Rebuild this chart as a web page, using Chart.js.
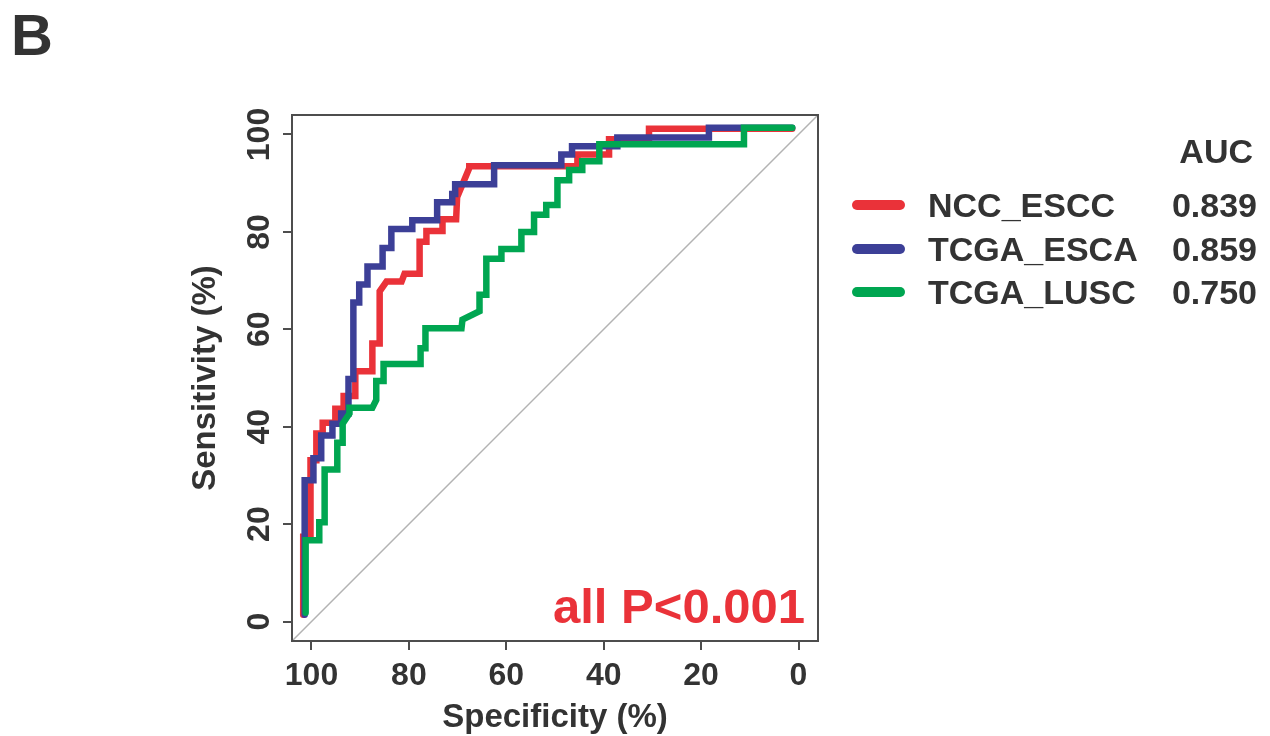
<!DOCTYPE html>
<html>
<head>
<meta charset="utf-8">
<script src="https://cdn.jsdelivr.net/npm/chart.js@4.4.1/dist/chart.umd.min.js"></script>
<style>
html,body{margin:0;padding:0;background:#ffffff;}
#wrap{width:1270px;height:736px;position:relative;}
</style>
</head>
<body>
<div id="wrap"><canvas id="c"></canvas></div>
<script>
// ---------- data ----------
const seriesNames = ['NCC_ESCC', 'TCGA_ESCA', 'TCGA_LUSC'];
const aucValues = ['0.839', '0.859', '0.750'];
const tickValues = [0, 20, 40, 60, 80, 100];
const tickLabels = ['0', '20', '40', '60', '80', '100'];

// NCC_ESCC (red)
const nccSpec = [101.7,101.7,100.2,100.2,99.0,99.0,97.7,97.7,95.1,95.1,93.4,93.4,91.0,91.0,87.5,87.5,86.0,86.0,84.6,81.5,80.9,77.8,77.8,76.4,76.4,73.1,73.1,70.3,70.1,67.6,67.6,45.4,45.4,38.9,38.9,30.7,30.7,1.3];
const nccSens = [1.4,17.4,17.4,33.1,33.1,38.6,38.6,40.8,40.8,43.7,43.7,46.3,46.3,51.4,51.4,57.1,57.1,67.8,69.8,69.8,71.4,71.4,78.0,78.0,80.2,80.2,82.6,82.6,87.1,93.1,93.5,93.5,95.9,95.9,99.0,99.0,101.2,101.2];

// TCGA_ESCA (blue)
const escaSpec = [101.4,101.4,99.6,99.6,98.0,98.0,95.7,95.7,93.9,93.9,92.4,92.4,91.4,91.4,90.2,90.2,88.5,88.5,85.4,85.4,83.6,83.6,79.3,79.3,74.2,74.2,71.1,71.1,70.5,70.5,62.5,62.5,48.7,48.7,46.5,46.5,37.2,37.2,18.4,18.4,1.3];
const escaSens = [1.4,29.0,29.0,33.5,33.5,38.2,38.2,40.6,40.6,42.7,42.7,49.8,49.8,65.5,65.5,69.2,69.2,72.9,72.9,76.7,76.7,80.6,80.6,82.4,82.4,86.1,86.1,87.8,87.8,89.8,89.8,93.7,93.7,95.9,95.9,97.6,97.6,99.4,99.4,101.4,101.4];

// TCGA_LUSC (green)
const luscSpec = [101.2,101.2,98.4,98.4,97.3,97.3,94.7,94.7,93.6,93.6,92.2,92.2,87.5,86.7,86.7,85.2,85.2,77.6,77.6,76.6,76.6,69.2,69.0,65.5,65.5,64.1,64.1,61.0,61.0,56.9,56.9,54.3,54.3,51.8,51.8,49.5,49.5,47.1,47.1,44.4,44.4,40.9,40.9,11.2,11.2,1.3];
const luscSens = [1.8,16.7,16.7,20.4,20.4,31.2,31.2,36.7,36.7,40.6,42.7,43.9,43.9,45.5,49.4,49.4,52.9,52.9,56.1,56.1,60.2,60.2,62.0,63.7,67.1,67.1,74.5,74.5,76.5,76.5,80.0,80.0,83.5,83.5,85.5,85.5,90.6,90.6,92.7,92.7,94.5,94.5,98.0,98.0,101.4,101.4];

// chance diagonal
const diagSpec = [104, -4];
const diagSens = [-4, 104];

// ---------- styles ----------
const COLORS = ['#ea3239', '#3c3f97', '#00a651'];
const TEXT = '#333333';
const FONT = '"Liberation Sans", Arial, Helvetica, sans-serif';

const toPts = (xs, ys) => xs.map((x, i) => ({x: x, y: ys[i]}));

const curveStyle = (c) => ({
  borderColor: c, backgroundColor: c, borderWidth: 6.5,
  pointRadius: 0, pointHoverRadius: 0, showLine: true, tension: 0,
  borderCapStyle: 'round', borderJoinStyle: 'miter', fill: false
});

const decor = {
  id: 'decor',
  afterDatasetsDraw(chart) {
    const {ctx, chartArea: a} = chart;
    ctx.save();
    ctx.strokeStyle = '#4d4d4d';
    ctx.lineWidth = 2;
    ctx.strokeRect(a.left, a.top, a.right - a.left, a.bottom - a.top);
    ctx.restore();
  },
  afterDraw(chart) {
    const {ctx, chartArea: a} = chart;
    const ys = chart.scales.y;
    ctx.save();
    // rotated y tick labels
    ctx.fillStyle = TEXT;
    ctx.font = 'bold 32px ' + FONT;
    ctx.textAlign = 'center';
    ctx.textBaseline = 'middle';
    tickValues.forEach((v, i) => {
      const py = ys.getPixelForValue(v);
      ctx.save();
      ctx.translate(a.left - 32, py);
      ctx.rotate(-Math.PI / 2);
      ctx.fillText(tickLabels[i], 0, 0);
      ctx.restore();
    });
    // panel letter
    ctx.font = 'bold 58px ' + FONT;
    ctx.textAlign = 'left';
    ctx.textBaseline = 'alphabetic';
    ctx.fillText('B', 11, 55);
    // p-value annotation
    ctx.fillStyle = COLORS[0];
    ctx.font = 'bold 49px ' + FONT;
    ctx.textAlign = 'right';
    ctx.fillText('all P<0.001', 805, 623);
    // legend
    ctx.fillStyle = TEXT;
    ctx.font = 'bold 34px ' + FONT;
    ctx.textAlign = 'right';
    ctx.fillText('AUC', 1253, 163);
    const rows = [205, 249, 292];
    seriesNames.forEach((name, i) => {
      const y = rows[i];
      ctx.strokeStyle = COLORS[i];
      ctx.lineWidth = 10;
      ctx.lineCap = 'round';
      ctx.beginPath();
      ctx.moveTo(857, y);
      ctx.lineTo(900, y);
      ctx.stroke();
      ctx.fillStyle = TEXT;
      ctx.textAlign = 'left';
      ctx.fillText(name, 928, y + 12);
      ctx.textAlign = 'right';
      ctx.fillText(aucValues[i], 1257, y + 12);
    });
    ctx.restore();
  }
};

new Chart(document.getElementById('c'), {
  type: 'scatter',
  data: {
    datasets: [
      Object.assign({label: seriesNames[2], data: toPts(luscSpec, luscSens), order: 1}, curveStyle(COLORS[2])),
      Object.assign({label: seriesNames[1], data: toPts(escaSpec, escaSens), order: 2}, curveStyle(COLORS[1])),
      Object.assign({label: seriesNames[0], data: toPts(nccSpec, nccSens), order: 3}, curveStyle(COLORS[0])),
      {label: 'chance', data: toPts(diagSpec, diagSens), order: 4, showLine: true,
       borderColor: '#b3b3b3', borderWidth: 1.5, pointRadius: 0, tension: 0, fill: false}
    ]
  },
  options: {
    responsive: true,
    maintainAspectRatio: false,
    animation: false,
    layout: {padding: {left: 0, right: 452, top: 115, bottom: 0}},
    plugins: {legend: {display: false}, tooltip: {enabled: false}},
    scales: {
      x: {
        type: 'linear', min: -4, max: 104, reverse: true,
        afterBuildTicks: s => { s.ticks = tickValues.map(v => ({value: v})); },
        afterFit: s => { s.height = 95; },
        grid: {drawOnChartArea: false, drawTicks: true, tickLength: 9, color: '#4d4d4d', lineWidth: 2},
        border: {display: false},
        ticks: {color: TEXT, padding: 7, maxRotation: 0, autoSkip: false,
                font: {family: FONT, size: 32, weight: 'bold'}},
        title: {display: true, text: 'Specificity (%)', color: TEXT,
                font: {family: FONT, size: 33, weight: 'bold'}, padding: {top: 0, bottom: -2}}
      },
      y: {
        type: 'linear', min: -4, max: 104,
        afterBuildTicks: s => { s.ticks = tickValues.map(v => ({value: v})); },
        afterFit: s => { s.width = 292; },
        grid: {drawOnChartArea: false, drawTicks: true, tickLength: 9, color: '#4d4d4d', lineWidth: 2},
        border: {display: false},
        ticks: {display: false},
        title: {display: true, text: 'Sensitivity (%)', color: TEXT,
                font: {family: FONT, size: 33, weight: 'bold'}, padding: {top: 186, bottom: 0}}
      }
    }
  },
  plugins: [decor]
});
</script>
</body>
</html>
